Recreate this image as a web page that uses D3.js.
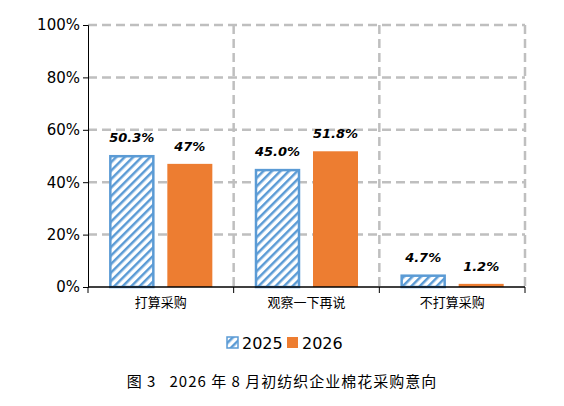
<!doctype html>
<html>
<head>
<meta charset="utf-8">
<script src="https://cdn.jsdelivr.net/npm/d3@7"></script>
<style>
body { margin: 0; background: #fff; font-family: "DejaVu Sans", sans-serif; }
</style>
</head>
<body>
<svg width="564" height="406"></svg>
<script>
var categories = ['打算采购', '观察一下再说', '不打算采购'];
var series = ['2025', '2026'];
var values2025 = [50.3, 45.0, 4.7];
var values2026 = [47, 51.8, 1.2];
var labels2025 = ['50.3%', '45.0%', '4.7%'];
var labels2026 = ['47%', '51.8%', '1.2%'];
var yTicks = [0, 20, 40, 60, 80, 100];

var svg = d3.select('svg');
var mLeft = 88, mRight = 525, mTop = 25, mBottom = 287;
var blue = '#5b9bd5', orange = '#ed7d31';

var defs = svg.append('defs');
var pat = defs.append('pattern').attr('id', 'hatch').attr('patternUnits', 'userSpaceOnUse')
  .attr('width', 6).attr('height', 6).attr('patternTransform', 'rotate(45)');
pat.append('rect').attr('width', 6).attr('height', 6).attr('fill', '#fff');
pat.append('rect').attr('width', 2.5).attr('height', 6).attr('fill', blue);

var x = d3.scaleBand().domain(categories).range([mLeft, mRight]);
var y = d3.scaleLinear().domain([0, 100]).range([mBottom, mTop]);

// grid
svg.selectAll('.hg').data(yTicks.slice(1)).enter().append('line')
  .attr('x1', mLeft).attr('x2', mRight).attr('y1', d => y(d)).attr('y2', d => y(d))
  .attr('stroke', '#bfbfbf').attr('stroke-width', 2.5).attr('stroke-dasharray', '9,5');
svg.selectAll('.vg').data(categories).enter().append('line')
  .attr('x1', d => x(d) + x.bandwidth()).attr('x2', d => x(d) + x.bandwidth())
  .attr('y1', mTop).attr('y2', mBottom)
  .attr('stroke', '#bfbfbf').attr('stroke-width', 2.5).attr('stroke-dasharray', '9,5');

var bw = 45, gap = 13;
var g = svg.append('g');
categories.forEach(function(c, i) {
  var cx = x(c) + x.bandwidth() / 2;
  var x1 = cx - gap / 2 - bw, x2 = cx + gap / 2;
  g.append('rect').attr('x', x1 + 1).attr('y', y(values2025[i]) + 1)
    .attr('width', bw - 2).attr('height', Math.max(0, mBottom - y(values2025[i]) - 1))
    .attr('fill', 'url(#hatch)').attr('stroke', blue).attr('stroke-width', 2.5);
  g.append('rect').attr('x', x2).attr('y', y(values2026[i]))
    .attr('width', bw).attr('height', mBottom - y(values2026[i])).attr('fill', orange);
  g.append('text').attr('x', x1 + bw / 2).attr('y', y(values2025[i]) - 13)
    .attr('text-anchor', 'middle').attr('font-weight', 'bold').attr('font-style', 'italic')
    .attr('font-size', 13).text(labels2025[i]);
  g.append('text').attr('x', x2 + bw / 2).attr('y', y(values2026[i]) - 13)
    .attr('text-anchor', 'middle').attr('font-weight', 'bold').attr('font-style', 'italic')
    .attr('font-size', 13).text(labels2026[i]);
});

// axes
var ya = svg.append('g').attr('transform', 'translate(' + mLeft + ',0)')
  .call(d3.axisLeft(y).tickValues(yTicks).tickFormat(d => d + '%').tickSize(5));
ya.selectAll('text').attr('font-size', 15).attr('fill', '#000').attr('font-family', 'DejaVu Sans');
ya.selectAll('line, path').attr('stroke', '#000');

svg.append('line').attr('x1', mLeft).attr('x2', mRight).attr('y1', mBottom).attr('y2', mBottom)
  .attr('stroke', '#000').attr('stroke-width', 1.5);
svg.selectAll('.xt').data([mLeft].concat(categories.map(c => x(c) + x.bandwidth()))).enter()
  .append('line').attr('x1', d => d).attr('x2', d => d).attr('y1', mBottom).attr('y2', mBottom + 6)
  .attr('stroke', '#000');
svg.selectAll('.xl').data(categories).enter().append('text')
  .attr('x', d => x(d) + x.bandwidth() / 2).attr('y', 307).attr('text-anchor', 'middle')
  .attr('font-size', 13).attr('font-family', 'Noto Sans CJK SC').text(d => d);

// legend
var lg = svg.append('g');
lg.append('rect').attr('x', 227).attr('y', 337).attr('width', 11).attr('height', 11)
  .attr('fill', 'url(#hatch)').attr('stroke', blue).attr('stroke-width', 1.5);
lg.append('text').attr('x', 242).attr('y', 349).attr('font-size', 16).text(series[0]);
lg.append('rect').attr('x', 287).attr('y', 337).attr('width', 11).attr('height', 11).attr('fill', orange);
lg.append('text').attr('x', 302).attr('y', 349).attr('font-size', 16).text(series[1]);

svg.append('text').attr('x', 282).attr('y', 387).attr('text-anchor', 'middle')
  .attr('font-size', 15).attr('font-family', 'Noto Sans CJK SC').attr('letter-spacing', 1)
  .style('white-space', 'pre')
  .text('图 3   2026 年 8 月初纺织企业棉花采购意向');
</script>
</body>
</html>
